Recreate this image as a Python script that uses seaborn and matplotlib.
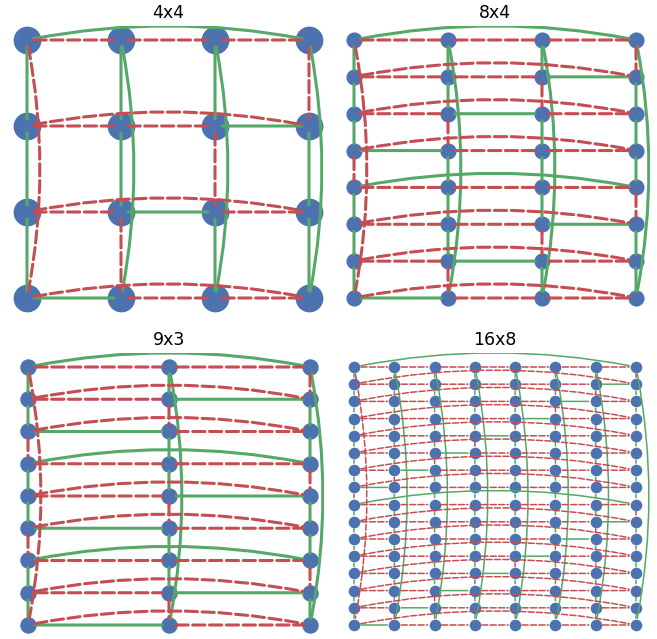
import pandas as pd
import seaborn as sns
import matplotlib.pyplot as plt
from matplotlib.patches import FancyArrowPatch

sns.set_theme(style="white")
plt.rcParams['font.family'] = ['DejaVu Sans']

# grid sizes shown in the four panels
titles = ['4x4', '8x4', '9x3', '16x8']
n_rows = [4, 8, 9, 16]
n_cols = [4, 4, 3, 8]

# column of the single green horizontal edge in each row
# (the last column means the wrap-around arc of that row)
green_h_4x4 = [3, 2, 1, 0]
green_h_8x4 = [3, 2, 1, 0, 3, 2, 1, 0]
green_h_9x3 = [2, 1, 0, 2, 1, 0, 2, 1, 0]
green_h_16x8 = [7, 6, 5, 4, 3, 2, 1, 0, 7, 6, 5, 4, 3, 2, 1, 0]
green_rows = [green_h_4x4, green_h_8x4, green_h_9x3, green_h_16x8]

# look of each panel
node_size = [400, 135, 140, 70]
edge_lw = [2.2, 2.2, 2.2, 1.1]

pal = sns.color_palette('deep')
blue, green, red = pal[0], pal[2], pal[3]

W, H = 657, 639
fig = plt.figure(figsize=(W / 100, H / 100), dpi=100)

# pixel position of the top-left node of each panel; node grid is 282x258 px
grid_left = [27, 354, 28, 354]
grid_top = [40, 40, 367, 367]
gw, gh_px = 282, 258
mx, my = 0.05, 0.0543


def edge(ax, p, q, col, lw, rad=0.0):
    dashed = col == 'r'
    patch = FancyArrowPatch(p, q, arrowstyle='-', shrinkA=5, shrinkB=5,
                            connectionstyle=f'arc3,rad={rad}',
                            color=green if col == 'g' else red, lw=lw,
                            linestyle=(0, (4, 1.5)) if dashed else '-',
                            zorder=3 if dashed else 2)
    ax.add_patch(patch)


for k in range(4):
    R, C = n_rows[k], n_cols[k]
    gh = green_rows[k]
    left = grid_left[k] - mx * gw
    top = grid_top[k] - my * gh_px
    aw = gw * (1 + 2 * mx)
    ah = gh_px * (1 + 2 * my)
    ax = fig.add_axes([left / W, 1 - (top + ah) / H, aw / W, ah / H])

    def pos(r, c):
        return (c / (C - 1), 1 - r / (R - 1))

    nodes = pd.DataFrame([pos(r, c) for r in range(R) for c in range(C)],
                         columns=['x', 'y'])
    sns.scatterplot(data=nodes, x='x', y='y', s=node_size[k], color=blue,
                    linewidth=0, ax=ax, zorder=1)

    lw = edge_lw[k]
    for r in range(R):
        for c in range(C):
            hcol = 'g' if gh[r] == c else 'r'
            vcol = 'r' if gh[r] == c else 'g'
            if c < C - 1:
                edge(ax, pos(r, c), pos(r, c + 1), hcol, lw)
            else:
                edge(ax, pos(r, 0), pos(r, C - 1), hcol, lw, rad=-0.1)
            if r < R - 1:
                edge(ax, pos(r, c), pos(r + 1, c), vcol, lw)
            else:
                edge(ax, pos(0, c), pos(R - 1, c), vcol, lw, rad=-0.1)

    ax.set_xlim(-mx, 1 + mx)
    ax.set_ylim(-my, 1 + my)
    ax.set_title(titles[k], fontsize=12.5, color='black')
    ax.set_xlabel('')
    ax.set_ylabel('')
    ax.axis('off')

fig.savefig('out.png', dpi=100)
